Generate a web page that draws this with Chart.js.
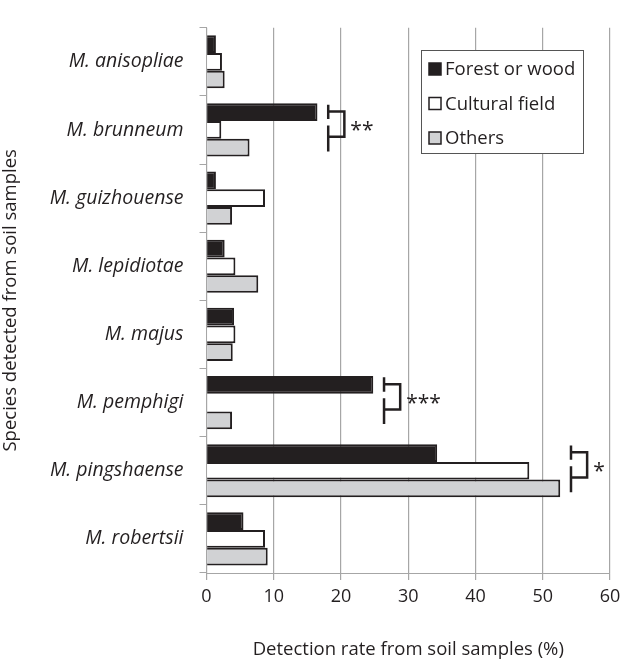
<!DOCTYPE html>
<html>
<head>
<meta charset="utf-8">
<script src="https://cdn.jsdelivr.net/npm/chart.js@4.4.1/dist/chart.umd.min.js"></script>
<style>
  html, body { margin: 0; padding: 0; background: #fff; }
  #wrap { width: 623px; height: 661px; position: relative; }
</style>
</head>
<body>
<div id="wrap"><canvas id="speciesChart"></canvas></div>
<script>
const SPECIES = ['M. anisopliae', 'M. brunneum', 'M. guizhouense', 'M. lepidiotae',
                 'M. majus', 'M. pemphigi', 'M. pingshaense', 'M. robertsii'];
const FOREST = [1.4, 16.5, 1.4, 2.7, 4.1, 24.8, 34.3, 5.5];
const CULTURAL = [2.3, 2.2, 8.7, 4.3, 4.3, 0, 48.0, 8.7];
const OTHERS = [2.7, 6.4, 3.8, 7.7, 3.9, 3.8, 52.6, 9.1];
const X_TICKS = [0, 10, 20, 30, 40, 50, 60];
// significance brackets: category index + stars
const SIG_CATS = [1, 5, 6];
const SIG_LABELS = ['**', '***', '*'];

const INK = '#231f20';
const FONT = "'Open Sans', 'Noto Sans', sans-serif";

// brackets drawn next to the longest bar of a category
const bracketPlugin = {
    id: 'brackets',
    afterDatasetsDraw(chart) {
        const {ctx, scales: {x, y}} = chart;
        const band = y.getPixelForValue(1) - y.getPixelForValue(0);
        ctx.save();
        ctx.strokeStyle = INK;
        ctx.lineWidth = 2.5;
        ctx.fillStyle = INK;
        SIG_CATS.forEach((cat, i) => {
            const maxVal = Math.max(FOREST[cat], CULTURAL[cat], OTHERS[cat]);
            const x1 = x.getPixelForValue(maxVal + 1.6);
            const x2 = x.getPixelForValue(maxVal + 4.0);
            const c = y.getPixelForValue(cat);
            const top = c - 0.27 * band, bot = c + 0.1 * band;
            ctx.beginPath();
            ctx.moveTo(x1, c - 0.37 * band); ctx.lineTo(x1, c - 0.16 * band);
            ctx.moveTo(x1, c - 0.065 * band); ctx.lineTo(x1, c + 0.315 * band);
            ctx.moveTo(x1, top); ctx.lineTo(x2, top); ctx.lineTo(x2, bot); ctx.lineTo(x1, bot);
            ctx.stroke();
            ctx.font = '21px ' + FONT;
            ctx.textAlign = 'left';
            ctx.textBaseline = 'middle';
            ctx.fillText(SIG_LABELS[i], x2 + 6, c + 0.02 * band);
        });
        ctx.restore();
    }
};

// boxed legend inside the plot area
const boxLegendPlugin = {
    id: 'boxLegend',
    afterDraw(chart) {
        const {ctx} = chart;
        const left = 421, top = 50, w = 162, h = 103;
        ctx.save();
        ctx.fillStyle = '#fff';
        ctx.fillRect(left, top, w, h);
        ctx.strokeStyle = '#555';
        ctx.lineWidth = 1;
        ctx.strokeRect(left + 0.5, top + 0.5, w, h);
        ctx.font = '18.5px ' + FONT;
        ctx.textBaseline = 'middle';
        chart.data.datasets.forEach((ds, i) => {
            const cy = top + 19 + i * 34.5;
            ctx.fillStyle = ds.backgroundColor;
            ctx.fillRect(429, cy - 6, 12, 12);
            ctx.strokeStyle = INK;
            ctx.lineWidth = 1.5;
            ctx.strokeRect(429, cy - 6, 12, 12);
            ctx.fillStyle = INK;
            ctx.fillText(ds.label, 445, cy + 1);
        });
        ctx.restore();
    }
};

const barStyle = { borderColor: INK, borderWidth: 2, borderSkipped: 'left',
                   categoryPercentage: 0.78, barPercentage: 1.0 };

new Chart(document.getElementById('speciesChart').getContext('2d'), {
    type: 'bar',
    data: {
        labels: SPECIES,
        datasets: [
            { label: 'Forest or wood', data: FOREST, backgroundColor: INK, ...barStyle },
            { label: 'Cultural field', data: CULTURAL, backgroundColor: '#ffffff', ...barStyle },
            { label: 'Others', data: OTHERS, backgroundColor: '#d1d2d4', ...barStyle }
        ]
    },
    options: {
        indexAxis: 'y',
        responsive: true,
        maintainAspectRatio: false,
        animation: false,
        layout: { padding: { top: 16, right: 13, left: 0, bottom: 0 } },
        plugins: {
            legend: { display: false },
            tooltip: { enabled: false }
        },
        scales: {
            x: {
                min: 0, max: 60,
                afterBuildTicks: (scale) => { scale.ticks = X_TICKS.map(v => ({value: v})); },
                afterFit: (scale) => {
                    scale.height = 88;
                    scale.paddingRight = 0;
                    scale.paddingLeft = 0;
                },
                grid: { color: '#a6a6a6', lineWidth: 1.2, tickLength: 7, drawTicks: true },
                border: { color: '#a6a6a6' },
                ticks: { color: INK, font: { family: FONT, size: 18 }, padding: 6 },
                title: { display: true, text: 'Detection rate from soil samples (%)',
                         color: INK, font: { family: FONT, size: 18.5 }, padding: { top: 0, bottom: 0 } }
            },
            y: {
                offset: true,
                afterFit: (scale) => { scale.width = 206.5; },
                grid: { display: true, drawOnChartArea: false, offset: true, tickLength: 7, color: '#a6a6a6' },
                border: { color: '#a6a6a6' },
                ticks: { color: INK, font: { family: FONT, size: 19.5, style: 'italic' }, padding: 16 },
                title: { display: true, text: 'Species detected from soil samples',
                         color: INK, font: { family: FONT, size: 18.5 }, padding: { top: 0, bottom: 0 } }
            }
        }
    },
    plugins: [bracketPlugin, boxLegendPlugin]
});
</script>
</body>
</html>
